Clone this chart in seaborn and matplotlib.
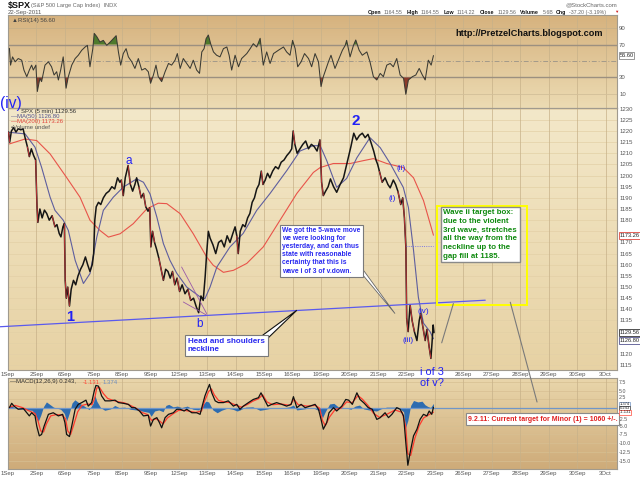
import numpy as np
import pandas as pd
import matplotlib
matplotlib.use("Agg")
import matplotlib.pyplot as plt
import matplotlib.transforms as mtrans
from matplotlib.patches import Rectangle, Polygon, ConnectionPatch
from matplotlib.collections import LineCollection
import seaborn as sns

sns.set_style("white")
plt.rcParams['font.family'] = ['Liberation Sans', 'DejaVu Sans']
NARROW = ['Liberation Sans Narrow', 'Liberation Sans', 'DejaVu Sans']

# ---------------- data ----------------
day_labels = ['1Sep', '2Sep', '6Sep', '7Sep', '8Sep', '9Sep', '12Sep', '13Sep', '14Sep', '15Sep',
              '16Sep', '19Sep', '20Sep', '21Sep', '22Sep', '23Sep', '26Sep', '27Sep', '28Sep',
              '29Sep', '30Sep', '3Oct']

price_t = [0.02, 0.06, 0.12, 0.2, 0.28, 0.36, 0.45, 0.53, 0.6, 0.68, 0.75, 0.82, 0.9, 0.97,
           1.02, 1.05, 1.12, 1.2, 1.28, 1.36, 1.45, 1.55, 1.65, 1.72, 1.8, 1.86, 1.93, 1.98,
           2.01, 2.05, 2.1, 2.16, 2.22, 2.3, 2.38, 2.46, 2.55, 2.63, 2.72, 2.8, 2.88, 2.96,
           3.01, 3.05, 3.1, 3.18, 3.26, 3.35, 3.45, 3.55, 3.65, 3.75, 3.85, 3.93, 3.98,
           4.05, 4.12, 4.22, 4.3, 4.38, 4.46, 4.52, 4.6, 4.68, 4.76, 4.84, 4.92, 4.98,
           5.02, 5.08, 5.15, 5.22, 5.3, 5.38, 5.46, 5.54, 5.62, 5.7, 5.78, 5.86, 5.94,
           6.03, 6.12, 6.22, 6.32, 6.42, 6.52, 6.62, 6.7, 6.78, 6.86, 6.93, 6.98,
           7.04, 7.1, 7.2, 7.3, 7.4, 7.5, 7.6, 7.7, 7.8, 7.9, 7.98,
           8.04, 8.09, 8.16, 8.25, 8.33, 8.42, 8.5, 8.58, 8.66, 8.74, 8.82, 8.9, 8.96,
           9.04, 9.12, 9.2, 9.3, 9.4, 9.5, 9.6, 9.7, 9.8, 9.9, 9.97,
           10.02, 10.08, 10.16, 10.26, 10.36, 10.46, 10.56, 10.66, 10.76, 10.86, 10.96,
           11.02, 11.08, 11.16, 11.25, 11.33, 11.44, 11.55, 11.67, 11.79, 11.9, 11.97,
           12.05, 12.15, 12.25, 12.35, 12.45, 12.55, 12.65, 12.75, 12.85, 12.93, 12.99,
           13.05, 13.15, 13.25, 13.35, 13.43, 13.54, 13.62, 13.7, 13.8, 13.87, 13.93, 13.98,
           14.01, 14.06, 14.13, 14.2, 14.28, 14.37, 14.45, 14.5, 14.58, 14.66, 14.72, 14.8,
           14.86, 14.9, 14.94, 14.97]
price_v = [1219.5, 1215, 1220, 1221.5, 1219.5, 1221, 1220.5, 1221, 1217, 1213, 1208.5, 1212, 1209, 1207,
           1186, 1179, 1185, 1181, 1184.5, 1183, 1180, 1182, 1177, 1178, 1174, 1172.5, 1177, 1178.5,
           1153, 1145, 1150, 1141.5, 1149, 1153, 1151, 1155, 1158, 1160, 1163.5, 1160, 1157, 1160,
           1165, 1180, 1186, 1188, 1187, 1190, 1192, 1193, 1195, 1194, 1199, 1197, 1198,
           1191, 1199, 1204.5, 1196, 1193, 1196, 1199, 1195, 1190, 1192, 1186, 1184, 1185.5,
           1168, 1175, 1170, 1167, 1163, 1158, 1153, 1158, 1157, 1154, 1157, 1151, 1154,
           1148, 1151, 1147, 1149, 1144, 1145, 1141, 1138.5, 1146, 1144, 1155, 1165,
           1175, 1172, 1169, 1165, 1170, 1171, 1168, 1173, 1170, 1174, 1177,
           1173, 1165, 1175, 1178, 1177, 1181, 1183, 1188, 1190, 1194, 1196, 1202, 1196,
           1198, 1201, 1199, 1202, 1204, 1203, 1206, 1207, 1209, 1210.5, 1212,
           1220, 1214, 1210, 1212, 1214, 1215.5, 1212, 1214, 1213, 1211, 1216,
           1197, 1191, 1193, 1195, 1198.5, 1195, 1192.5, 1196, 1199, 1205, 1209,
           1213, 1219, 1216, 1218, 1219, 1217, 1218.5, 1215, 1211, 1207, 1205,
           1202, 1197, 1199, 1196, 1194.5, 1198, 1196, 1193, 1187, 1190, 1181, 1168,
           1136, 1130, 1142, 1135, 1130, 1126, 1135, 1138, 1132, 1126, 1131, 1123,
           1118, 1125, 1133, 1129.56]

ma50_t = [0.05, 0.6, 0.95, 1.18, 1.48, 1.65, 1.94, 2.12, 2.36, 2.65, 2.88, 3.12, 3.35, 3.7, 4.05,
          4.52, 4.76, 4.99, 5.23, 5.46, 5.69, 5.93, 6.28, 6.75, 6.92, 7.1, 7.34, 7.8, 8.26, 8.74,
          9.21, 9.8, 10.26, 10.72, 10.97, 11.2, 11.55, 11.9, 12.26, 12.72, 13.08, 13.43, 13.89,
          14.07, 14.25, 14.42, 14.6, 14.83, 14.95]
ma50_v = [1219.4, 1218.7, 1212.7, 1203.7, 1190.3, 1184.4, 1180, 1175.4, 1162, 1151.6, 1156, 1172.4,
          1184.4, 1190.3, 1194.8, 1198.5, 1197, 1191.8, 1181.4, 1169.5, 1162, 1156.2, 1150, 1145.6,
          1144.8, 1150, 1159, 1168, 1174, 1184.4, 1192, 1202.3, 1211, 1213.4, 1213.4, 1206.7,
          1194.7, 1198.7, 1208, 1217, 1212.5, 1205.4, 1194.7, 1185.7, 1166.5, 1145.4, 1133.8,
          1130, 1126.8]

ma200_t = [0.05, 0.6, 1.01, 1.48, 2.05, 2.53, 2.88, 3.23, 3.53, 3.94, 4.4, 4.88, 5.28, 5.58,
           6.05, 6.51, 6.98, 7.21, 7.57, 7.92, 8.39, 8.97, 9.56, 10.15, 10.73, 10.97, 11.43,
           12.02, 12.49, 12.84, 13.31, 13.89, 14.25, 14.6, 14.95]
ma200_v = [1214.2, 1216.4, 1215.7, 1209.7, 1199.3, 1190.3, 1180, 1175.4, 1172.4, 1173.9, 1178.4,
           1185.1, 1187.6, 1187.4, 1182.9, 1173.9, 1163.5, 1159.8, 1156.6, 1157.5, 1160.6, 1168,
           1180, 1192, 1201.4, 1203.6, 1205.4, 1205.4, 1206.7, 1207.6, 1205.4, 1203.6, 1199,
           1188.8, 1173.26]

rsi_t = [0.05, 0.09, 0.16, 0.25, 0.36, 0.48, 0.56, 0.66, 0.75, 0.83, 0.89, 0.98, 1.03, 1.12, 1.18,
         1.30, 1.42, 1.53, 1.62, 1.71, 1.77, 1.85, 1.94, 2.04, 2.12, 2.24, 2.36, 2.47, 2.59, 2.71,
         2.79, 2.88, 2.98, 3.03, 3.12, 3.23, 3.35, 3.47, 3.59, 3.70, 3.80, 3.88, 3.96, 4.05, 4.15,
         4.23, 4.35, 4.46, 4.58, 4.70, 4.82, 4.93, 5.01, 5.11, 5.20, 5.28, 5.40, 5.52, 5.64, 5.75,
         5.87, 5.95, 6.05, 6.16, 6.28, 6.40, 6.51, 6.63, 6.73, 6.81, 6.89, 6.96, 7.04, 7.12, 7.22,
         7.33, 7.45, 7.57, 7.69, 7.77, 7.86, 7.98, 8.10, 8.21, 8.39, 8.51, 8.62, 8.74, 8.86, 8.97,
         9.09, 9.21, 9.33, 9.50, 9.68, 9.79, 9.91, 10.0, 10.09, 10.18, 10.30, 10.42, 10.56, 10.67,
         10.79, 10.91, 11.0, 11.08, 11.26, 11.35, 11.49, 11.63, 11.75, 11.85, 11.90, 12.02, 12.14,
         12.22, 12.34, 12.45, 12.61, 12.72, 12.84, 12.96, 13.08, 13.19, 13.31, 13.43, 13.54, 13.66,
         13.78, 13.90, 13.98, 14.07, 14.21, 14.33, 14.45, 14.56, 14.66, 14.77, 14.87, 14.95]
rsi_v = [65.4, 45, 55, 49, 53, 51, 39, 31, 39, 45, 39, 45, 13, 29, 25,
         45, 49, 43, 33, 37, 27, 39, 55, 17, 31, 45, 53, 57, 63, 67,
         69, 43, 65, 83.5, 79.5, 73, 75, 69, 73, 77, 80.7, 61, 45, 59, 65,
         55, 49, 41, 53, 39, 41, 37, 23, 33, 45, 31, 25, 37, 47, 45,
         51, 59, 41, 53, 47, 41, 51, 39, 35, 61, 65, 77, 81.5, 71, 61,
         57, 55, 65, 67, 57, 39, 57, 43, 53, 59, 65, 71, 67, 77.5, 45,
         61, 47, 59, 63, 67, 61, 57, 75, 65, 43, 49, 59, 53, 43,
         59, 49, 19, 31, 49, 57, 41, 53, 63, 69, 75, 55, 69,
         75.5, 63, 57, 61, 49, 31, 27, 35, 31, 45, 47, 43, 53,
         33, 29, 9.6, 27, 31, 33, 41, 33, 27, 51, 45, 56.6]

macd_t = [0.05, 0.13, 0.21, 0.36, 0.54, 0.66, 0.75, 0.83, 0.95, 1.01, 1.10, 1.18, 1.27, 1.42, 1.59,
          1.77, 1.92, 2.0, 2.06, 2.16, 2.24, 2.36, 2.47, 2.59, 2.74, 2.82, 2.94, 3.03, 3.09, 3.18,
          3.29, 3.41, 3.59, 3.76, 3.88, 4.05, 4.23, 4.35, 4.46, 4.62, 4.76, 4.93, 5.01, 5.11, 5.23,
          5.32, 5.40, 5.52, 5.64, 5.81, 5.93, 6.05, 6.19, 6.28, 6.46, 6.63, 6.75, 6.84, 6.92, 7.01,
          7.08, 7.16, 7.28, 7.39, 7.57, 7.74, 7.92, 8.04, 8.15, 8.27, 8.45, 8.62, 8.80, 8.89, 9.01,
          9.13, 9.27, 9.44, 9.62, 9.79, 9.95, 10.03, 10.15, 10.30, 10.44, 10.61, 10.79, 10.91, 11.0,
          11.08, 11.20, 11.28, 11.44, 11.55, 11.73, 11.87, 11.97, 12.10, 12.26, 12.37, 12.52, 12.66,
          12.80, 12.96, 13.08, 13.25, 13.37, 13.49, 13.66, 13.78, 13.90, 13.98, 14.05, 14.13, 14.25,
          14.37, 14.48, 14.60, 14.72, 14.80, 14.89, 14.95]
macd_v = [0.15, 1.4, 0.6, -0.3, -0.1, -1.3, -2.2, -1.3, -2.2, -5.1, -7.9, -7.5, -5.1, -1.75, -1.3,
          -2.2, -1.75, -4.1, -7.5, -8.1, -5.1, -0.3, 1.1, 1.6, 2.3, 0.6, 1.6, 4.9, 6.5, 6.3,
          3.5, 2.1, 2.1, 2.3, 1.6, 1.4, 1.1, 0.15, 0.15, -0.8, -2.2, -2.0, -5.1, -3.2, -2.7,
          -4.1, -5.6, -2.7, -1.75, -1.3, -0.3, -0.3, -0.8, -0.3, -1.3, -1.3, -1.75, 1.1, 3.5, 5.4,
          6.8, 4.4, 2.1, 1.6, 1.6, 2.1, 0.6, 1.1, -0.3, 0.6, 1.6, 2.5, 3.0, 4.4, 2.5,
          0.6, 1.1, 1.6, 1.1, 0.6, 1.1, 3.3, 0.15, 1.1, 0.15, 0.6, 1.1, -0.3, -3.2,
          -6.0, -4.1, -1.3, 0.15, -0.8, 0.6, 2.5, 2.3, 1.1, 4.4, 2.5, 1.4, 0.15,
          -0.3, -3.2, -2.7, -1.3, -2.7, -1.75, 0.15, -0.3, -2.2, -9.9, -16.3, -12.7, -7.9,
          -6.0, -3.2, -1.75, -2.2, -0.8, -1.75, 0.243]

signal_t = [0.05, 0.25, 0.5, 0.75, 0.95, 1.05, 1.15, 1.25, 1.35, 1.5, 1.7, 1.9, 2.02, 2.1, 2.2,
            2.3, 2.45, 2.6, 2.8, 2.95, 3.05, 3.12, 3.22, 3.35, 3.5, 3.7, 3.9, 4.1, 4.3, 4.5, 4.7,
            4.9, 5.05, 5.2, 5.35, 5.45, 5.6, 5.8, 6.0, 6.2, 6.4, 6.6, 6.8, 6.9, 7.05, 7.15, 7.25,
            7.4, 7.6, 7.8, 8.0, 8.2, 8.4, 8.6, 8.8, 8.95, 9.1, 9.3, 9.6, 9.9, 10.05, 10.2, 10.5,
            10.8, 10.95, 11.05, 11.15, 11.3, 11.5, 11.7, 11.9, 12.1, 12.3, 12.45, 12.65, 12.85,
            13.05, 13.3, 13.6, 13.85, 13.97, 14.05, 14.15, 14.3, 14.45, 14.6, 14.8, 14.95]
signal_v = [0.3, 0.8, 0.2, -0.8, -1.5, -3.5, -6.5, -6.8, -4.5, -2.2, -1.8, -2.0, -3.0, -6.5, -7.5,
            -5.0, -1.0, 0.8, 1.2, 1.0, 3.0, 5.8, 5.9, 4.2, 2.8, 2.2, 1.8, 1.5, 0.8, 0.0, -1.2,
            -1.8, -3.5, -3.0, -3.8, -4.5, -2.8, -1.6, -0.6, -0.6, -0.9, -1.2, -0.8, 1.8, 4.8, 5.5, 3.8,
            2.2, 1.8, 1.6, 0.9, 0.3, 1.0, 2.0, 2.7, 3.8, 1.8, 1.0, 1.2, 0.8, 2.5, 1.0, 0.6,
            0.8, 0.0, -3.5, -5.0, -2.5, -0.3, 0.0, 1.8, 1.6, 3.6, 2.6, 0.8, -1.5,
            -2.6, -1.8, -0.5, -1.2, -5.0, -13.0, -13.5, -8.5, -5.0, -2.8, -1.8, -1.131]

hist_t = [0.0, 0.1, 0.2, 0.4, 0.6, 0.85, 0.98, 1.06, 1.15, 1.25, 1.35, 1.45, 1.6, 1.85, 1.98, 2.06,
          2.15, 2.25, 2.35, 2.5, 2.7, 2.85, 3.0, 3.05, 3.12, 3.25, 3.4, 3.6, 3.75, 3.9, 4.1, 4.3,
          4.5, 4.7, 4.95, 5.03, 5.15, 5.3, 5.45, 5.55, 5.65, 5.8, 5.95, 6.1, 6.3, 6.5, 6.7, 6.85,
          6.95, 7.05, 7.2, 7.35, 7.5, 7.7, 7.9, 8.05, 8.15, 8.35, 8.6, 8.85, 9.0, 9.3, 9.6, 9.9,
          10.03, 10.15, 10.4, 10.7, 10.95, 11.05, 11.15, 11.3, 11.45, 11.6, 11.8, 12.05, 12.2,
          12.35, 12.5, 12.75, 12.95, 13.1, 13.3, 13.5, 13.7, 13.9, 13.97, 14.05, 14.15, 14.25,
          14.4, 14.55, 14.65, 14.75, 14.85, 14.95]
hist_v = [0, 0.8, 0.3, -0.2, -0.4, -0.6, -2.0, -3.8, -2.0, 0.5, 1.8, 1.2, 0.3, -0.3, -1.5, -3.6,
          -1.5, 1.5, 2.4, 1.5, 0.5, -0.4, 1.5, 3.8, 2.0, 0.2, -0.6, -0.2, 0.8, 0.2, 0.3, -0.3,
          -0.5, -0.8, -1.2, -2.3, -0.8, -0.5, -1.0, 0.8, 1.1, 0.4, 0.6, 0.2, 0.6, -0.3, -0.5, 1.0,
          2.0, 1.8, -0.5, -1.3, -0.6, 0.0, -0.3, -0.8, -0.5, 0.3, 0.4, -0.6, -0.4, 0.1, 0.0, 0.4,
          0.9, -0.5, -0.2, 0.2, -0.8, -2.7, -1.0, 1.2, 1.4, 0.4, 0.2, -0.3, 0.6,
          0.9, -0.2, -0.6, -0.8, -0.2, 0.3, 0.3, 0.3, -1.0, -5.5, -3.5, 0.8, 2.2,
          1.8, 2.0, 1.0, 0.5, 0.2, 1.374]

neck_t = [-0.28, 16.77]
neck_v = [1132.2, 1144.1]

# ---------------- figure / layout ----------------
W, H = 640, 479
fig = plt.figure(figsize=(6.4, 4.79), dpi=100)
fig.patch.set_facecolor('white')


def ax_box(top, bottom, left=8, right=617):
    return fig.add_axes([left / W, 1 - bottom / H, (right - left) / W, (bottom - top) / H])


def P(x, y):
    return x / W, 1 - y / H


ax_r = ax_box(15, 108)
ax_p = ax_box(108, 370)
ax_m = ax_box(378, 469)


def gradient(ax, ctop, cbot):
    c1 = np.array(matplotlib.colors.to_rgb(ctop))
    c2 = np.array(matplotlib.colors.to_rgb(cbot))
    g = np.linspace(0, 1, 128)[:, None, None]
    img = c1[None, None, :] * (1 - g) + c2[None, None, :] * g
    ax.imshow(img, extent=[0, 1, 0, 1], transform=ax.transAxes, aspect='auto',
              zorder=0, interpolation='bilinear')


gradient(ax_r, '#d6b27e', '#ecdbb3')
gradient(ax_p, '#f3e8c9', '#e7d2a4')
gradient(ax_m, '#e9d6ab', '#ceab79')

XMAX = 21.4
for ax in (ax_r, ax_p, ax_m):
    ax.set_xlim(0, XMAX)
    ax.set_xticks(range(len(day_labels)))
    for s in ax.spines.values():
        s.set_color('#a09a8e')
        s.set_linewidth(0.8)
    ax.yaxis.tick_right()
    ax.tick_params(axis='both', length=0, labelsize=4.3, colors='#555555', pad=1.5)
    ax.grid(axis='x', color='#c7b189', lw=0.5, zorder=0.5)
    ax.set_xlabel('')
    ax.set_ylabel('')

ax_r.set_xticklabels([])
# the 23Sep label of the upper strip is hidden under the "i of 3" note in the reference
ax_p.set_xticklabels([lb if lb != '23Sep' else '' for lb in day_labels])
ax_m.set_xticklabels(day_labels)

# ---------------- RSI ----------------
ax_r.set_ylim(-7, 105.8)
ax_r.set_yticks([10, 30, 50, 70, 90])
ax_r.set_yticklabels(['10', '30', '', '70', '90'])
for lv, c, ls, lw in [(10, '#d2bf98', '-', 0.6), (90, '#c8b088', '-', 0.6), (30, '#9c9080', '-', 1.0),
                      (70, '#9c9080', '-', 1.0), (50, '#a39a8a', (0, (5, 2, 1, 2)), 0.7)]:
    ax_r.axhline(lv, color=c, ls=ls, lw=lw, zorder=0.6)
rsi_arr = np.array(rsi_v)
rt = np.array(rsi_t)
ax_r.fill_between(rt, 70, rsi_arr, where=rsi_arr > 70, interpolate=True, color='#4f7a2c', lw=0, zorder=2)
ax_r.fill_between(rt, 30, rsi_arr, where=rsi_arr < 30, interpolate=True, color='#8d3b2a', lw=0, zorder=2)
sns.lineplot(x=rsi_t, y=rsi_v, ax=ax_r, color='#3a3a33', lw=0.75, estimator=None, sort=False,
             legend=False, zorder=3)
ax_r.set_xlim(0, XMAX)
ax_r.text(0.006, 0.965, '\u25b2RSI(14) 56.60', transform=ax_r.transAxes, fontsize=4.3,
          color='#444444', va='top', ha='left')

# ---------------- Price ----------------
ax_p.set_ylim(1112.8, 1230.3)
pticks = list(range(1115, 1231, 5))
ax_p.set_yticks(pticks)
hidden = {1175, 1130, 1125}
ax_p.set_yticklabels(['' if v in hidden else str(v) for v in pticks])
for v in pticks:
    ax_p.axhline(v, color='#e3d0a6', lw=0.5, zorder=0.4)

sns.lineplot(x=ma200_t, y=ma200_v, ax=ax_p, color='#e8544a', lw=0.8, estimator=None, sort=False,
             legend=False, zorder=3)
sns.lineplot(x=ma50_t, y=ma50_v, ax=ax_p, color='#5e5e9e', lw=0.8, estimator=None, sort=False,
             legend=False, zorder=3)
sns.lineplot(x=price_t, y=price_v, ax=ax_p, color='#151515', lw=1.1, estimator=None, sort=False,
             legend=False, zorder=4)
pts = np.column_stack([price_t, price_v])
segs = np.stack([pts[:-1], pts[1:]], axis=1)
steps = np.diff(np.array(price_v))
big_down = steps < -4
ax_p.add_collection(LineCollection(segs[big_down], colors='#d4383a', linewidths=0.6, zorder=4.5))

# neckline
sns.lineplot(x=neck_t, y=neck_v, ax=ax_p, color='#5a5aee', lw=0.9, estimator=None, sort=False,
             legend=False, zorder=5)
ax_p.lines[-1].set_clip_on(False)
# wedge near b (purple)
ax_p.plot([6.1, 6.98], [1159, 1138.1], color='#9a5aa8', lw=0.6, zorder=5)
ax_p.plot([6.16, 6.98], [1143.3, 1137.4], color='#9a5aa8', lw=0.6, zorder=5)
# gap marker dotted
ax_p.plot([14.0, 14.95], [1168.2, 1168.2], color='#5a5aee', lw=0.6, ls=':', zorder=5)
ax_p.set_xlim(0, XMAX)

# legend text
leg_y = [111.0, 116.4, 121.8, 127.2]
fig.text(*P(21, leg_y[0]), 'SPX (5 min) 1129.56', fontsize=4.3, color='#333333', va='center')
fig.text(*P(11, leg_y[1]), '\u2014MA(50) 1126.80', fontsize=4.3, color='#55558f', va='center')
fig.text(*P(11, leg_y[2]), '\u2014MA(200) 1173.26', fontsize=4.3, color='#e0463c', va='center')
fig.text(*P(11, leg_y[3]), '\u25aaVolume undef', fontsize=4.3, color='#555555', va='center')

# value tags (price)
bt_p = mtrans.blended_transform_factory(ax_p.transAxes, ax_p.transData)
for val, txt, ec in [(1173.26, '1173.26', '#e0463c'), (1129.56, '1129.56', '#333333'),
                     (1125.9, '1126.80', '#55558f')]:
    ax_p.text(1.004, val, txt, transform=bt_p, fontsize=4.1,
              color='#222222', va='center', ha='left', clip_on=False, zorder=20,
              bbox=dict(boxstyle='square,pad=0.15', fc='white', ec=ec, lw=0.6))
bt_r = mtrans.blended_transform_factory(ax_r.transAxes, ax_r.transData)
ax_r.text(1.004, 56.6, '56.60', transform=bt_r, fontsize=4.1, color='#222222', va='center',
          ha='left', clip_on=False, zorder=20,
          bbox=dict(boxstyle='square,pad=0.15', fc='white', ec='#888888', lw=0.6))

# wave labels
BLUE = '#2121f5'
ax_p.text(2.18, 1136.5, '1', color=BLUE, fontsize=10.5, fontweight='bold', ha='center', va='center', zorder=12)
ax_p.text(4.23, 1206.7, 'a', color=BLUE, fontsize=8.5, ha='center', va='center', zorder=12)
ax_p.text(6.72, 1133.6, 'b', color=BLUE, fontsize=8.5, ha='center', va='center', zorder=12)
ax_p.text(12.22, 1224.3, '2', color=BLUE, fontsize=11, fontweight='bold', ha='center', va='center', zorder=12)
ax_p.text(13.81, 1203.0, '(ii)', color=BLUE, fontsize=6, ha='center', va='center', zorder=12)
ax_p.text(13.49, 1189.6, '(i)', color=BLUE, fontsize=6, ha='center', va='center', zorder=12)
ax_p.text(14.07, 1125.9, '(iii)', color=BLUE, fontsize=6, ha='center', va='center', zorder=12)
ax_p.text(14.6, 1138.9, '(iv)', color=BLUE, fontsize=6, ha='center', va='center', zorder=12)
fig.text(*P(10.5, 103.5), '(iv)', color=BLUE, fontsize=11.2, ha='center', va='center', zorder=30)
fig.text(*P(432, 372), 'i of 3', color=BLUE, fontsize=7.8, ha='center', va='center', zorder=30)
fig.text(*P(432, 383.5), 'of v?', color=BLUE, fontsize=7.8, ha='center', va='center', zorder=30)

# callout 1
ax_p.add_patch(Polygon([(12.35, 1157.2), (13.6, 1138.1), (12.51, 1157.2)], closed=True,
                       fc='white', ec='#666666', lw=0.6, zorder=9))
ax_p.text(9.64, 1176.9,
          'We got the 5-wave move\nwe were looking for\nyesterday, and can thus\n'
          'state with reasonable\ncertainty that this is\nwave i of 3 of v.down.',
          family=NARROW, fontsize=4.9, fontweight='bold', color='#2a2af0', ha='left', va='top',
          linespacing=1.22, zorder=10,
          bbox=dict(boxstyle='square,pad=0.35', fc='white', ec='#7a7a7a', lw=0.8))

# callout 2
ax_p.add_patch(Polygon([(8.95, 1128.4), (10.15, 1139.6), (9.15, 1127.3)], closed=True,
                       fc='white', ec='#111111', lw=0.8, zorder=9))
ax_p.text(6.32, 1127.2, 'Head and shoulders\nneckline', family=NARROW, fontsize=5.8,
          fontweight='bold', color='#2a2af0', ha='left', va='top', linespacing=1.25, zorder=10,
          bbox=dict(boxstyle='square,pad=0.35', fc='white', ec='#7a7a7a', lw=0.8))

# yellow target box
ax_p.add_patch(Rectangle((15.09, 1141.9), 18.23 - 15.09, 1186.3 - 1141.9, fill=False,
                         ec='#ffff00', lw=1.4, zorder=8))
ax_p.text(15.3, 1184.8,
          'Wave ii target box:\ndue to the violent\n3rd wave, stretches\nall the way from the\n'
          'neckline up to the\ngap fill at 1185.',
          family=NARROW, fontsize=5.7, fontweight='bold', color='#0f8a0f', ha='left', va='top',
          linespacing=1.33, zorder=10,
          bbox=dict(boxstyle='square,pad=0.3', fc='white', ec='#8a8a8a', lw=1.0))

# grey arrows
ax_p.plot([15.24, 15.65], [1125.0, 1142.6], color='#7a7a7a', lw=0.8, zorder=8)
con = ConnectionPatch(xyA=(17.65, 1143.2), coordsA=ax_p.transData,
                      xyB=(18.59, 1.77), coordsB=ax_m.transData, color='#7a7a7a', lw=0.8, zorder=8)
fig.add_artist(con)

# URL
fig.text(*P(455, 33), 'http://PretzelCharts.blogspot.com', fontsize=6.6, fontweight='bold',
         color='#111111', ha='left', va='center', zorder=30)

# ---------------- MACD ----------------
ax_m.set_ylim(-17.37, 8.63)
mticks = [7.5, 5.0, 2.5, -2.5, -5.0, -7.5, -10.0, -12.5, -15.0]
ax_m.set_yticks(mticks)
# 2.5 / -2.5 are written by hand just off the tag stack (as partly hidden in the reference)
ax_m.set_yticklabels(['' if abs(v) == 2.5 else '%.1f' % v for v in mticks])
ax_m.tick_params(axis='y', labelsize=3.8)
for v in mticks + [0.0]:
    ax_m.axhline(v, color='#d7bf92', lw=0.5, zorder=0.4)
ax_m.fill_between(hist_t, 0, hist_v, color='#2d6cb0', lw=0, zorder=2)
ax_m.axhline(0, color='#7096c8', lw=0.9, zorder=2.1)
sns.lineplot(x=signal_t, y=signal_v, ax=ax_m, color='#ff3b2f', lw=0.9, estimator=None, sort=False,
             legend=False, zorder=3)
sns.lineplot(x=macd_t, y=macd_v, ax=ax_m, color='#111111', lw=0.9, estimator=None, sort=False,
             legend=False, zorder=4)
ax_m.set_xlim(0, XMAX)

fig.text(*P(10, 382), '\u2014MACD(12,26,9) 0.243,', fontsize=4.3, color='#333333', va='center')
fig.text(*P(83, 382), '-1.131,', fontsize=4.3, color='#ff4a3a', va='center')
fig.text(*P(103, 382), '1.374', fontsize=4.3, color='#6d8fc0', va='center')

bt_m = mtrans.blended_transform_factory(ax_m.transAxes, ax_m.transData)
for val, txt in [(3.1, '2.5'), (-3.1, '-2.5')]:
    ax_m.text(1.0, val, txt, transform=bt_m + mtrans.ScaledTranslation(1.5 / 72, 0, fig.dpi_scale_trans),
              fontsize=3.8, color='#555555', va='center', ha='left', clip_on=False)
# value tags stacked around the zero line
for val, txt, ec in [(1.2, '1.374', '#6d8fc0'), (0.0, '0.243', '#333333'),
                     (-1.2, '-1.131', '#ff4a3a')]:
    ax_m.text(1.004, val, txt, transform=bt_m, fontsize=3.0, color='#222222', va='center',
              ha='left', clip_on=False, zorder=20,
              bbox=dict(boxstyle='square,pad=0.04', fc='white', ec=ec, lw=0.5))

ax_m.text(16.15, -3.1, '9.2.11: Current target for Minor (1) = 1060 +/-.', family=NARROW,
          fontsize=5.0, fontweight='bold', color='#e02020', ha='left', va='center', zorder=10,
          bbox=dict(boxstyle='square,pad=0.3', fc='white', ec='#8a8a8a', lw=0.8))

# ---------------- header ----------------
fig.text(*P(8, 5.5), '$SPX', fontsize=6.5, fontweight='bold', color='#111111', va='center')
fig.text(*P(31, 5.5), '(S&P 500 Large Cap Index)  INDX', fontsize=4.1, color='#666666', va='center')
fig.text(*P(8, 12.3), '22-Sep-2011', fontsize=4.3, color='#555555', va='center')
fig.text(*P(617, 5), '@StockCharts.com', fontsize=4.3, color='#666666', va='center', ha='right')
hdr = [(368, 'Open', True), (384, '1164.55', False), (407, 'High', True), (421, '1164.55', False),
       (444, 'Low', True), (457, '1114.22', False), (480, 'Close', True), (498, '1129.56', False),
       (520, 'Volume', True), (543, '5.6B', False), (556, 'Chg', True), (569, '-37.20 (-3.19%)', False)]
for x, s, b in hdr:
    fig.text(*P(x, 12.3), s, fontsize=3.8, color='#111111' if b else '#666666',
             fontweight='bold' if b else 'normal', va='center')
fig.text(*P(616, 12.3), '\u25bc', fontsize=3.2, color='#d02020', va='center', ha='center')

fig.savefig('out.png', dpi=100, facecolor='white')
